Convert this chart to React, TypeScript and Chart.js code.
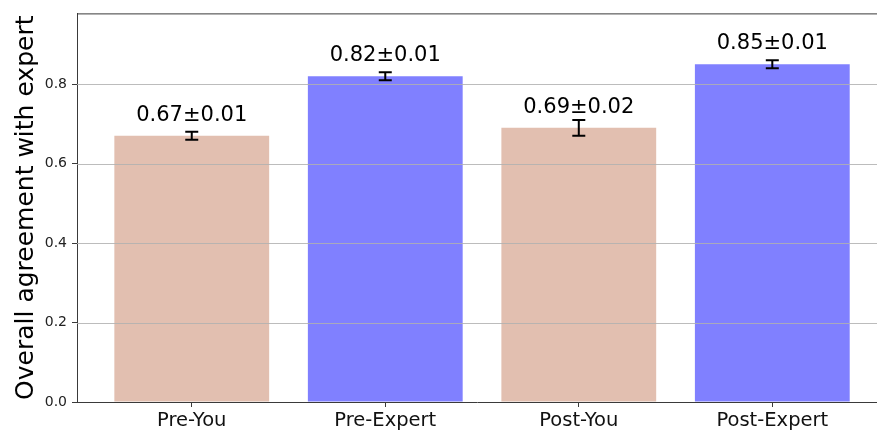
import React, { useEffect, useRef } from "react";
import { Chart, registerables } from "chart.js";

Chart.register(...registerables);

const categories = ["Pre-You", "Pre-Expert", "Post-You", "Post-Expert"];
const means = [0.67, 0.82, 0.69, 0.85];
const errors = [0.01, 0.01, 0.02, 0.01];
const barColors = ["#e2bfb0", "#8080ff", "#e2bfb0", "#8080ff"];
const yTicks = [0, 0.2, 0.4, 0.6, 0.8];
const yTitle = "Overall agreement with expert";

const FONT = "'DejaVu Sans', sans-serif";
const SPINE = "#3a3a3a";

export default function App() {
  const ref = useRef<HTMLCanvasElement>(null);

  useEffect(() => {
    if (!ref.current) return;

    const overlay = {
      id: "overlay",
      afterDatasetsDraw(chart: any) {
        const { ctx, chartArea, scales } = chart;
        const xs = scales.x;
        const ys = scales.y;
        ctx.save();
        // horizontal grid lines drawn over bars
        ctx.strokeStyle = "rgba(176,176,176,0.85)";
        ctx.lineWidth = 1;
        yTicks.forEach((t) => {
          if (t === 0) return;
          const py = Math.round(ys.getPixelForValue(t)) + 0.5;
          ctx.beginPath();
          ctx.moveTo(chartArea.left, py);
          ctx.lineTo(chartArea.right, py);
          ctx.stroke();
        });
        // top spine
        ctx.strokeStyle = SPINE;
        ctx.beginPath();
        ctx.moveTo(chartArea.left, chartArea.top + 0.5);
        ctx.lineTo(chartArea.right, chartArea.top + 0.5);
        ctx.stroke();
        // error bars
        ctx.strokeStyle = "#000";
        ctx.lineWidth = 2;
        means.forEach((m, i) => {
          const px = xs.getPixelForValue(i);
          const y1 = ys.getPixelForValue(m - errors[i]);
          const y2 = ys.getPixelForValue(m + errors[i]);
          ctx.beginPath();
          ctx.moveTo(px, y1);
          ctx.lineTo(px, y2);
          ctx.moveTo(px - 6.5, y1);
          ctx.lineTo(px + 6.5, y1);
          ctx.moveTo(px - 6.5, y2);
          ctx.lineTo(px + 6.5, y2);
          ctx.stroke();
        });
        // value labels
        ctx.fillStyle = "#000";
        ctx.font = `21px ${FONT}`;
        ctx.textAlign = "center";
        ctx.textBaseline = "alphabetic";
        means.forEach((m, i) => {
          const label = `${m.toFixed(2)}±${errors[i].toFixed(2)}`;
          ctx.fillText(label, xs.getPixelForValue(i), ys.getPixelForValue(m + 0.03) - 3);
        });
        // y axis title
        ctx.save();
        ctx.translate(33, (chartArea.top + chartArea.bottom) / 2);
        ctx.rotate(-Math.PI / 2);
        ctx.font = `25px ${FONT}`;
        ctx.fillStyle = "#000";
        ctx.textAlign = "center";
        ctx.textBaseline = "alphabetic";
        ctx.fillText(yTitle, 0, 0);
        ctx.restore();
        ctx.restore();
      },
    };

    const chart = new Chart(ref.current, {
      type: "bar",
      data: {
        datasets: [
          {
            data: means.map((m, i) => ({ x: i, y: m })),
            backgroundColor: barColors,
            borderWidth: 0,
            categoryPercentage: 0.8,
            barPercentage: 1,
          },
        ],
      },
      options: {
        responsive: false,
        animation: false,
        devicePixelRatio: 1,
        layout: { padding: { left: 0, top: 12, right: 0, bottom: 0 } },
        plugins: {
          legend: { display: false },
          tooltip: { enabled: false },
          title: { display: false },
        },
        scales: {
          x: {
            type: "linear",
            min: -0.593,
            max: 3.541,
            offset: false,
            grid: {
              display: true,
              drawOnChartArea: false,
              drawTicks: true,
              tickLength: 5,
              color: SPINE,
              offset: false,
            },
            border: { display: true, color: SPINE, width: 1 },
            ticks: {
              autoSkip: false,
              maxRotation: 0,
              padding: 2,
              color: "#111",
              font: { family: FONT, size: 19.5 },
              callback: (v: any) => categories[v as number] ?? "",
            },
            afterBuildTicks: (axis: any) => {
              axis.ticks = categories.map((_, i) => ({ value: i }));
            },
            afterFit: (axis: any) => {
              axis.height = 31;
            },
          },
          y: {
            type: "linear",
            min: 0,
            max: 0.978,
            grid: {
              display: true,
              drawOnChartArea: false,
              drawTicks: true,
              tickLength: 5,
              color: SPINE,
            },
            border: { display: true, color: SPINE, width: 1 },
            ticks: {
              padding: 5,
              color: "#222",
              font: { family: FONT, size: 14 },
              callback: (v: any) => Number(v).toFixed(1),
            },
            afterBuildTicks: (axis: any) => {
              axis.ticks = yTicks.map((v) => ({ value: v }));
            },
            afterFit: (axis: any) => {
              axis.width = 77;
            },
          },
        },
      },
      plugins: [overlay],
    } as any);

    return () => chart.destroy();
  }, []);

  return (
    <div
      style={{
        position: "fixed",
        left: 0,
        top: 0,
        width: 877,
        height: 433,
        background: "#fff",
        overflow: "hidden",
      }}
    >
      <canvas ref={ref} width={877} height={433} style={{ width: 877, height: 433, display: "block" }} />
    </div>
  );
}
